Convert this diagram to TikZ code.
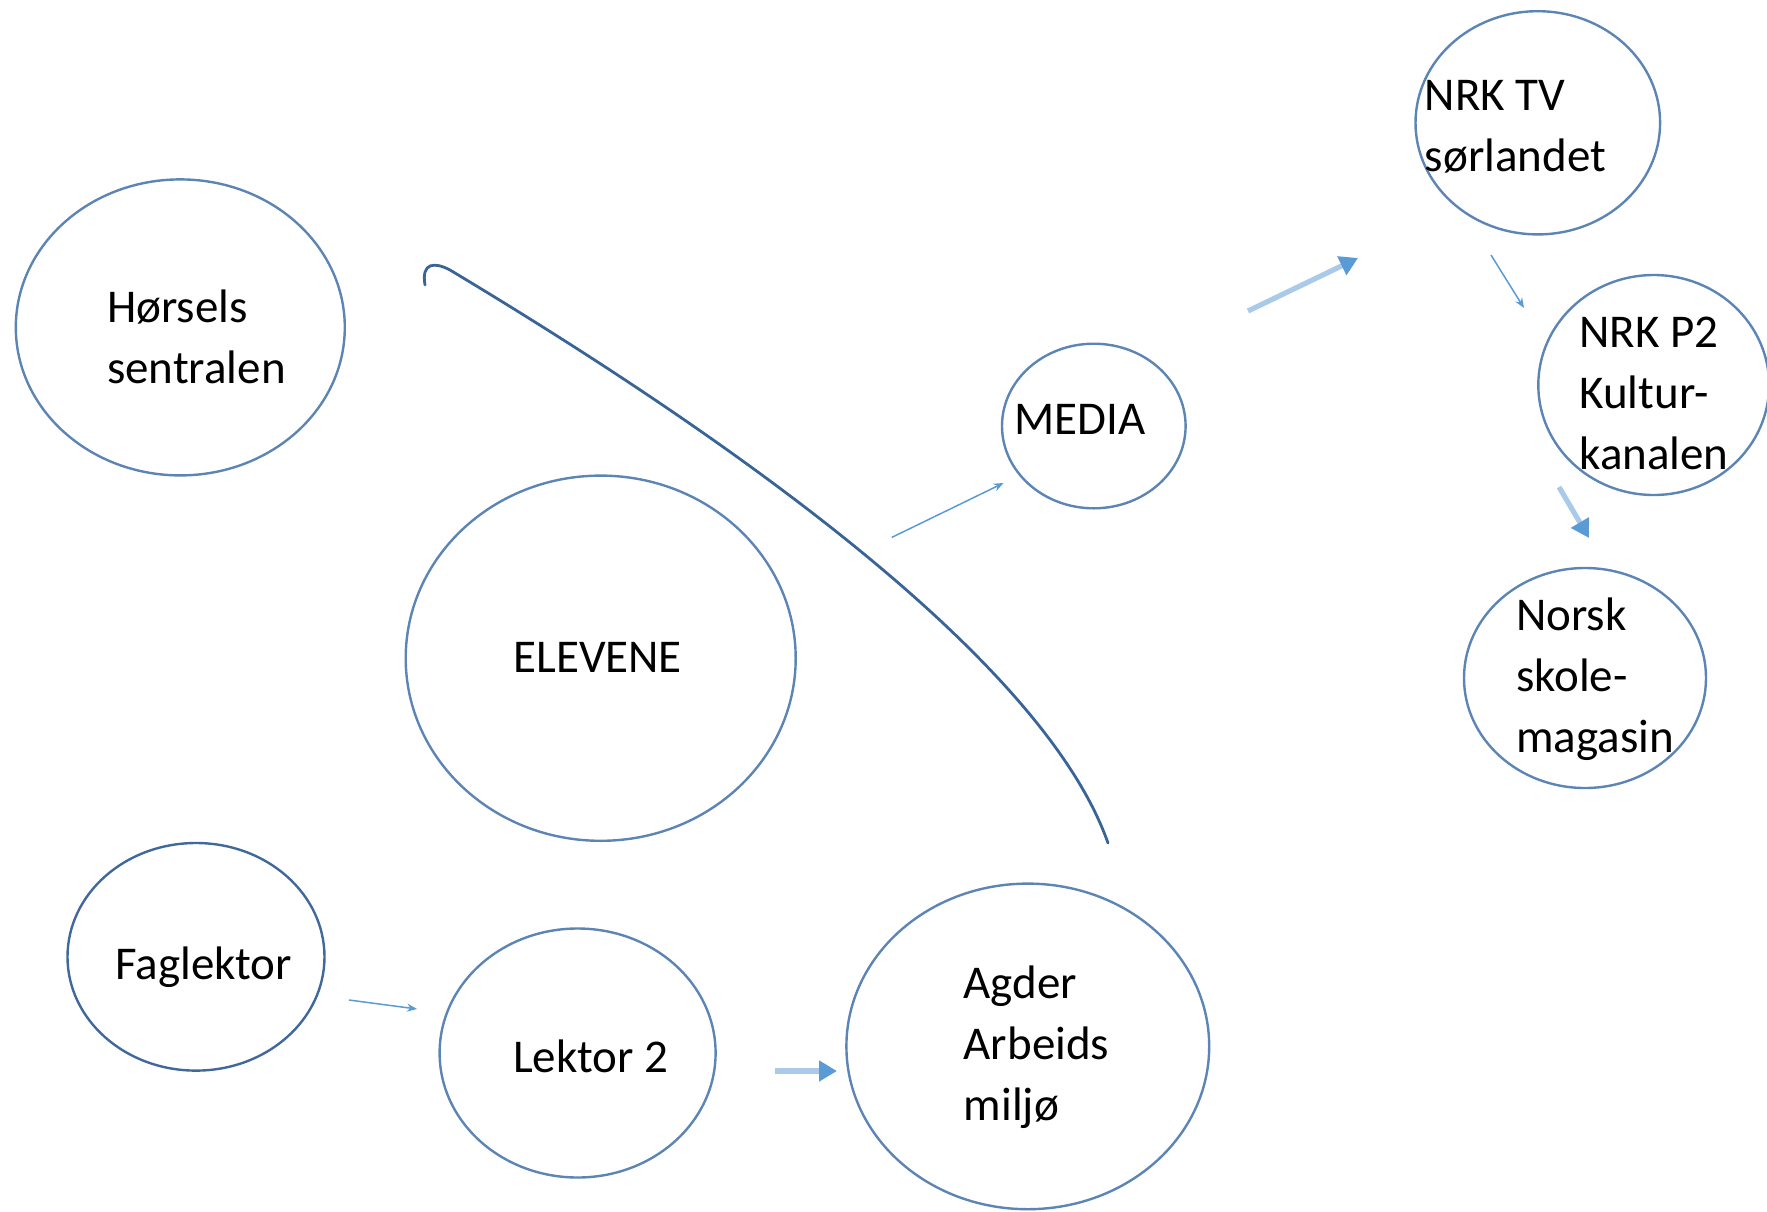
\documentclass[tikz,border=0pt]{standalone}
\usepackage{fontspec}
\setmainfont{Carlito}
\usepackage{tikz}
\usetikzlibrary{arrows.meta,shapes.geometric}
\definecolor{ringblue}{RGB}{92,132,180}
\definecolor{darkring}{RGB}{64,104,154}
\definecolor{curveblue}{RGB}{56,100,152}
\definecolor{arrowblue}{RGB}{91,155,213}
\definecolor{softblue}{RGB}{170,202,234}
\tikzset{%
	ring/.style      = {draw=ringblue, ellipse, line width=1.2pt, inner sep=0pt},
	label text/.style= {anchor=base west, inner sep=0pt, align=left, font=\fontsize{23.5}{30.5}\selectfont},
	thinarrow/.style = {draw=arrowblue, line width=0.75pt, -{Stealth[length=5pt,width=4pt]}},
	softarrow/.style = {draw=softblue, line width=2.6pt, -{Triangle[length=9pt,width=10pt,color=arrowblue]}},
	bigcurve/.style  = {draw=curveblue, line width=1.4pt, line cap=round},
}
\begin{document}
\begin{tikzpicture}[x=0.5pt,y=-0.5pt]
	\useasboundingbox (0,0) rectangle (1767,1211);
	% circles
	\node[ring, minimum width=164.5pt, minimum height=148pt] (hors) at (180.3,327.4) {};
	\node[ring, minimum width=195pt, minimum height=182.6pt] (elev) at (600.7,658.2) {};
	\node[ring, draw=darkring, minimum width=128.5pt, minimum height=113.8pt] (fag) at (196,956.8) {};
	\node[ring, minimum width=138pt, minimum height=124.5pt] (lek) at (577.6,1053) {};
	\node[ring, minimum width=181.4pt, minimum height=162.8pt] (agd) at (1027.8,1046.4) {};
	\node[ring, minimum width=91.8pt, minimum height=82.3pt] (media) at (1093.8,426) {};
	\node[ring, minimum width=122.3pt, minimum height=111.6pt] (nrktv) at (1537.8,122.8) {};
	\node[ring, minimum width=115.4pt, minimum height=110pt] (nrkp2) at (1653.7,385) {};
	\node[ring, minimum width=121pt, minimum height=110pt] (norsk) at (1585,678) {};
	% texts (base = last line)
	\node[label text] (hors-t) at (106.7,383.3) {Hørsels\\sentralen};
	\node[label text] (elev-t) at (513,672.3) {ELEVENE};
	\node[label text] (fag-t) at (115,979) {Faglektor};
	\node[label text] (lek-t) at (512.8,1072) {Lektor 2};
	\node[label text] (agd-t) at (963.3,1120) {Agder\\Arbeids\\miljø};
	\node[label text] (media-t) at (1014,434.5) {MEDIA};
	\node[label text] (nrktv-t) at (1424.5,171) {NRK TV\\sørlandet};
	\node[label text] (nrkp2-t) at (1579,469) {NRK P2\\Kultur-\\kanalen};
	\node[label text] (norsk-t) at (1515.8,752.5) {Norsk\\skole-\\magasin};
	% arrow ends
	\coordinate (fag-out) at (349,1000);
	\coordinate (lek-in) at (417,1009);
	\coordinate (lek-out) at (775,1071);
	\coordinate (agd-in) at (837,1071);
	\coordinate (elev-out) at (891.8,537.4);
	\coordinate (media-in) at (1003.6,483);
	\coordinate (media-out) at (1248,311);
	\coordinate (nrktv-in) at (1358,258);
	\coordinate (nrktv-out) at (1491,255);
	\coordinate (nrkp2-in) at (1524,308);
	\coordinate (nrkp2-out) at (1559,487);
	\coordinate (norsk-in) at (1589,538);
	\draw[thinarrow] (fag-out) -- (lek-in);
	\draw[softarrow] (lek-out) -- (agd-in);
	\draw[thinarrow] (elev-out) -- (media-in);
	\draw[softarrow] (media-out) -- (nrktv-in);
	\draw[thinarrow] (nrktv-out) -- (nrkp2-in);
	\draw[softarrow] (nrkp2-out) -- (norsk-in);
	% the long line
	\coordinate (curve-a) at (425,285);
	\coordinate (curve-b) at (450,270);
	\coordinate (curve-c) at (1108,843);
	\draw[bigcurve] (curve-a) .. controls (421,262) and (435,262) .. (curve-b)
		.. controls (700,420) and (1040,650) .. (curve-c);
\end{tikzpicture}
\end{document}
